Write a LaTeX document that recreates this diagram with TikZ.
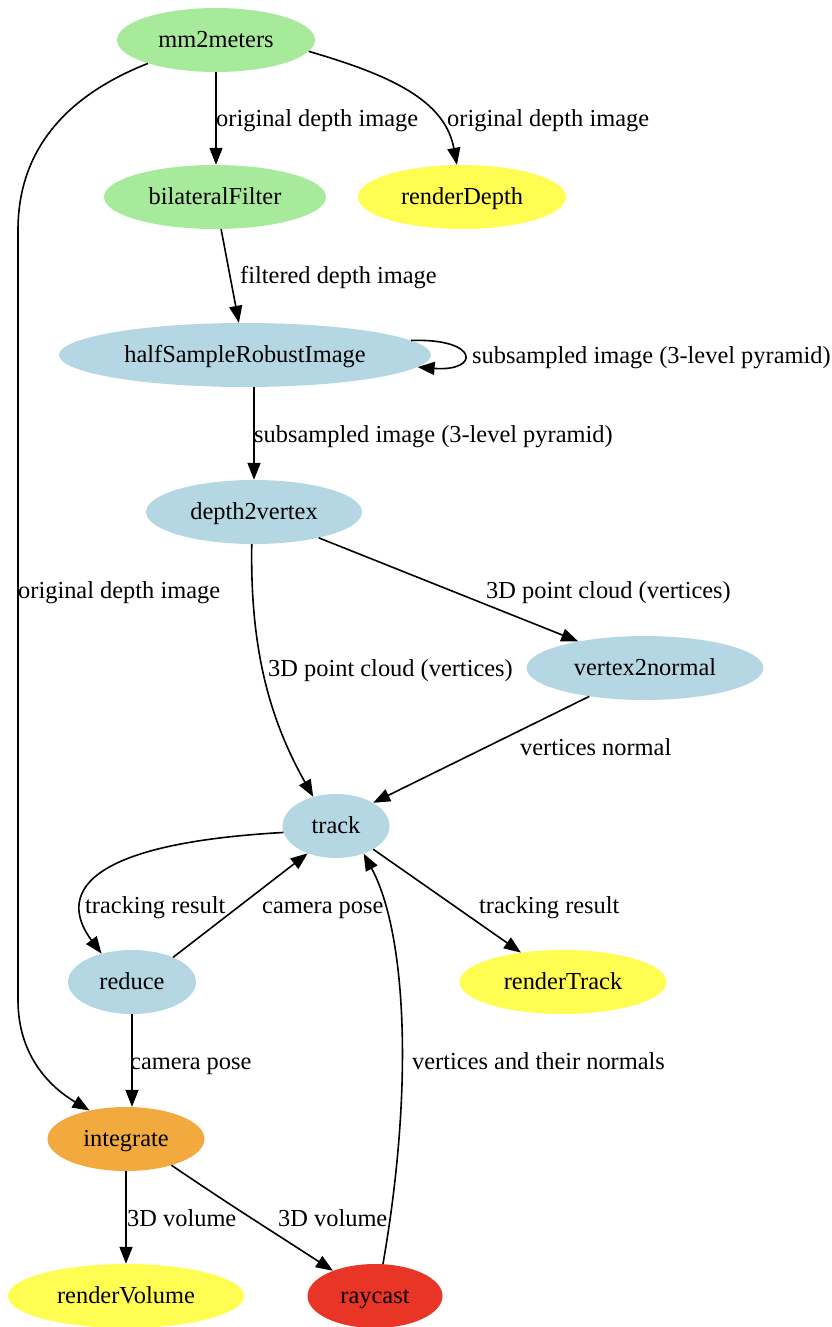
\documentclass[tikz,border=0pt]{standalone}
\usepackage{fontspec}
\setmainfont{Liberation Serif}
\usetikzlibrary{shapes.geometric,arrows.meta}
\definecolor{cgreen}{HTML}{A8EA9C}
\definecolor{cblue}{HTML}{B5D7E3}
\definecolor{cyellow}{HTML}{FFFC52}
\definecolor{corange}{HTML}{F2A93D}
\definecolor{cred}{HTML}{E83525}
\tikzset{
  proc/.style={ellipse, inner sep=0pt, minimum height=64pt, text height=18pt, text depth=3pt, font=\fontsize{24.4}{29}\selectfont},
  green/.style={proc, fill=cgreen},
  blue/.style={proc, fill=cblue},
  yellow/.style={proc, fill=cyellow},
  lbl/.style={anchor=west, inner sep=0pt, text height=20pt, text depth=3pt, font=\fontsize{24.4}{29}\selectfont},
  edge/.style={line width=1.6pt, -{Triangle[length=17pt,width=13pt]}}
}
\begin{document}
\begin{tikzpicture}[x=1pt,y=-1pt]
\useasboundingbox (0,0) rectangle (831,1327);
% nodes
\node[green, minimum width=198pt] (mm) at (216,40) {mm2meters};
\node[green, minimum width=222pt] (bf) at (215,197) {bilateralFilter};
\node[yellow, minimum width=208pt] (rd) at (462,197) {renderDepth};
\node[blue, minimum width=372pt] (hs) at (245,355) {halfSampleRobustImage};
\node[blue, minimum width=216pt] (dv) at (254,512) {depth2vertex};
\node[blue, minimum width=237pt] (vn) at (645,668) {vertex2normal};
\node[blue, minimum width=107pt] (tr) at (336,826) {track};
\node[blue, minimum width=128pt] (re) at (132,982) {reduce};
\node[yellow, minimum width=207pt] (rt) at (563,982) {renderTrack};
\node[proc, fill=corange, minimum width=157pt] (in) at (126,1139) {integrate};
\node[yellow, minimum width=236pt] (rv) at (126,1296) {renderVolume};
\node[proc, fill=cred, minimum width=135pt] (rc) at (375,1296) {raycast};
% edges
\draw[edge] (mm.south) -- (mm.south |- bf.north);
\draw[edge] (mm.-7) .. controls (390,75) and (445,100) .. (rd.99);
\draw[edge] (mm.199) .. controls (55,100) and (18,160) .. (18,230) -- (18,1000) .. controls (18,1060) and (55,1090) .. (in.142);
\draw[edge] (bf) -- (hs);
\draw[edge] (hs.5) .. controls (480,338) and (480,372) .. (hs.-4);
\draw[edge] (dv.north |- hs.south) -- (dv.north);
\draw[edge] (dv) -- (vn);
\draw[edge] (dv.-94) .. controls (250,650) and (270,720) .. (tr.128);
\draw[edge] (vn.207) -- (tr.32);
\draw[edge] (tr.187) .. controls (60,845) and (65,905) .. (re.137);
\draw[edge] (re.31) -- (tr.224);
\draw[edge] (tr.-32) -- (rt.145);
\draw[edge] (rc.76) .. controls (415,1080) and (405,930) .. (tr.-45);
\draw[edge] (re.south) -- (re.south |- in.north);
\draw[edge] (in) -- (rv);
\draw[edge] (in.-30) .. controls (230,1205) and (270,1230) .. (rc.149);
% labels
\node[lbl] (l1) at (216,118) {original depth image};
\node[lbl] (l2) at (447,118) {original depth image};
\node[lbl] (l3) at (240,275) {filtered depth image};
\node[lbl] (l4) at (472,355) {subsampled image (3-level pyramid)};
\node[lbl] (l5) at (254,434) {subsampled image (3-level pyramid)};
\node[lbl] (l6) at (18,590) {original depth image};
\node[lbl] (l7) at (486,590) {3D point cloud (vertices)};
\node[lbl] (l8) at (268,668) {3D point cloud (vertices)};
\node[lbl] (l9) at (520,747) {vertices normal};
\node[lbl] (l10) at (85,905) {tracking result};
\node[lbl] (l11) at (262,905) {camera pose};
\node[lbl] (l12) at (479,905) {tracking result};
\node[lbl] (l13) at (412,1061) {vertices and their normals};
\node[lbl] (l14) at (130,1061) {camera pose};
\node[lbl] (l15) at (127,1218) {3D volume};
\node[lbl] (l16) at (278,1218) {3D volume};
\end{tikzpicture}
\end{document}
